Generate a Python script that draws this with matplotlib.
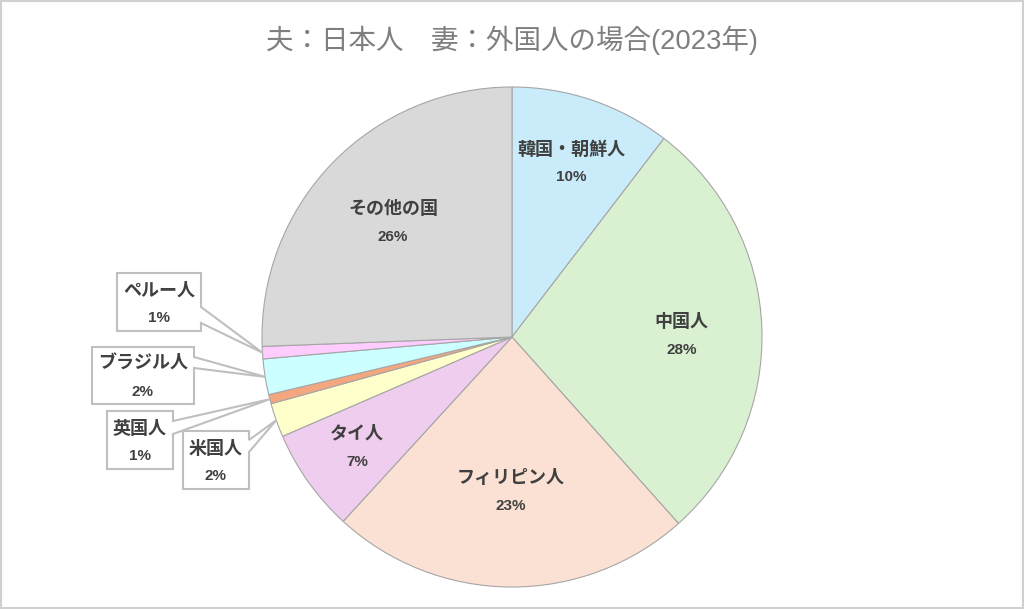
import numpy as np
import matplotlib.pyplot as plt
from matplotlib.patches import Polygon, Rectangle

plt.rcParams['font.family'] = ['Liberation Sans', 'Noto Sans CJK JP', 'DejaVu Sans']

# 2023年 夫日本人・妻外国人の婚姻 国籍別割合 (%)
countries = ['韓国・朝鮮人', '中国人', 'フィリピン人', 'タイ人', '米国人',
             '英国人', 'ブラジル人', 'ペルー人', 'その他の国']
shares = [10.4, 28.0, 23.4, 6.7, 2.2, 0.6, 2.3, 0.8, 25.6]
colors = ['#c9ebfa', '#d9f1d1', '#fbe1d3', '#efcdee', '#ffffcc',
          '#f4a67e', '#ccffff', '#ffccff', '#d9d9d9']

# inside labels: radius fraction, outside labels: callout boxes (x0, y0, x1, y1, pointer top, pointer bottom)
inner_r = {0: 0.735, 1: 0.68, 2: 0.62, 3: 0.76, 8: 0.66}
callouts = {
    4: (-1.316, -0.608, -1.052, -0.376, -0.412, -0.460),
    5: (-1.620, -0.528, -1.356, -0.296, -0.336, -0.388),
    6: (-1.680, -0.268, -1.272, -0.040, -0.080, -0.124),
    7: (-1.580, 0.024, -1.244, 0.256, 0.120, 0.056),
}

fig = plt.figure(figsize=(10.24, 6.09), dpi=100)
fig.patches.append(Rectangle((0.001, 0.0015), 0.998, 0.997, transform=fig.transFigure,
                             fill=False, edgecolor='#d0d0d0', linewidth=1.5))
ax = fig.add_axes([262 / 1024, 22 / 609, 500 / 1024, 500 / 609])

wedges, _ = ax.pie(shares, colors=colors, startangle=90, counterclock=False,
                   radius=1, wedgeprops=dict(edgecolor='#a6a6a6', linewidth=0.8))
ax.set_xlim(-1, 1)
ax.set_ylim(-1, 1)
ax.set_aspect('equal')
ax.axis('off')

txt = dict(ha='center', va='center', color='#404040', fontweight='bold')
for i, w in enumerate(wedges):
    mid = np.deg2rad((w.theta1 + w.theta2) / 2)
    pct = f'{round(shares[i]):d}%'
    if i in inner_r:
        r = inner_r[i]
        x, y = r * np.cos(mid), r * np.sin(mid)
        if i == 1:
            y -= 0.02
        ax.text(x, y + 0.052, countries[i], fontsize=13, **txt)
        ax.text(x, y - 0.058, pct, fontsize=11, **txt)
    else:
        x0, y0, x1, y1, pt, pb = callouts[i]
        tip = (np.cos(mid), np.sin(mid))
        poly = Polygon([(x0, y1), (x1, y1), (x1, pt), tip, (x1, pb), (x1, y0), (x0, y0)],
                       closed=True, facecolor='white', edgecolor='#bfbfbf',
                       linewidth=1.5, clip_on=False, zorder=3)
        ax.add_patch(poly)
        cx, cy = (x0 + x1) / 2, (y0 + y1) / 2
        ax.text(cx, cy + 0.044, countries[i], fontsize=13, zorder=4, **txt)
        ax.text(cx, cy - 0.064, pct, fontsize=11, zorder=4, **txt)

fig.text(0.5, 1 - 40 / 609, '夫：日本人　妻：外国人の場合(2023年)', ha='center', va='center',
         fontsize=19.8, color='#7f7f7f')

fig.savefig('out.png', dpi=100)
